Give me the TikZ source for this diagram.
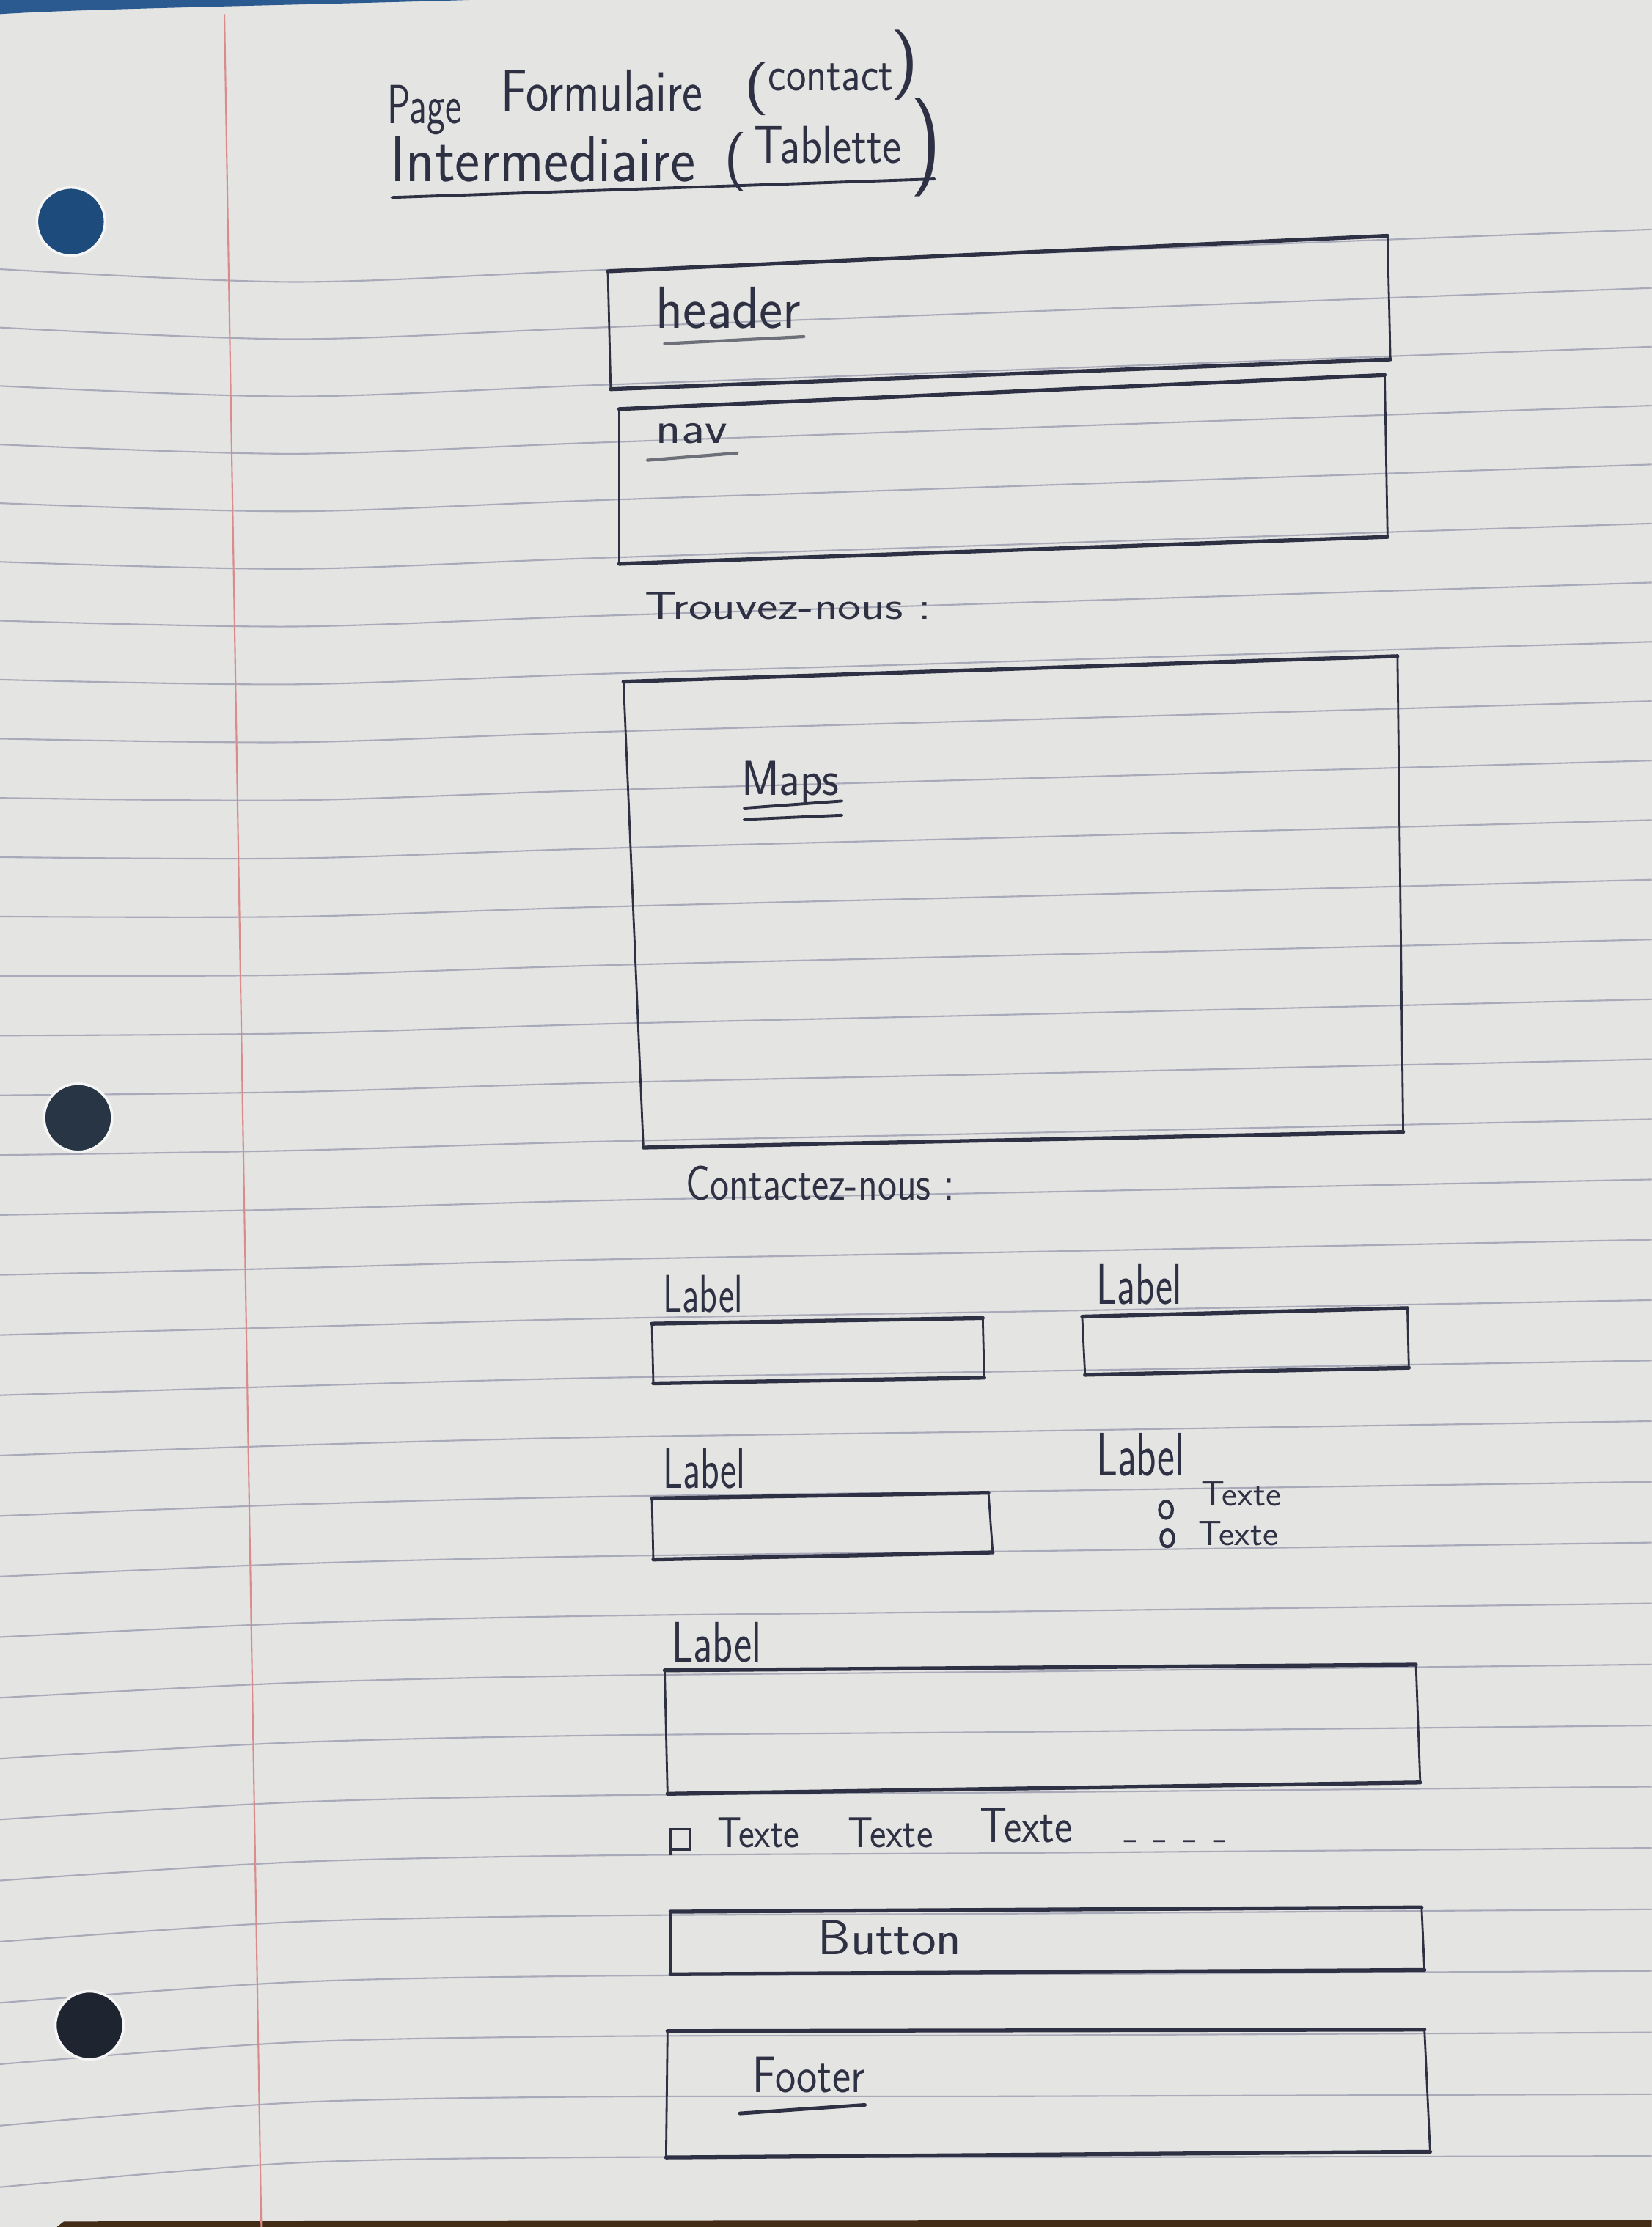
\documentclass[tikz,border=0pt]{standalone}
\usepackage{graphicx}
\newlength\pxu
\setlength\pxu{0.55118pt}
% handwritten-looking word: width and height (above baseline) in picture units;
% set large first so the light 17pt optical design is used
\newcommand\hw[3]{\resizebox{#1\pxu}{#2\pxu}{\sffamily\fontsize{20}{24}\selectfont #3}}
\definecolor{paper}{HTML}{E4E4E2}
\definecolor{rule}{HTML}{A9AAB9}
\definecolor{margin}{HTML}{DA8C8C}
\definecolor{ink}{HTML}{2E3043}
\definecolor{pencil}{HTML}{6E7079}
\definecolor{band}{HTML}{2A5A90}
\definecolor{holeA}{HTML}{1D4B7C}
\definecolor{holeB}{HTML}{273544}
\definecolor{holeC}{HTML}{1F2431}
\tikzset{
  txt/.style={inner sep=0pt, outer sep=0pt, text=ink, anchor=base west},
  edgeh/.style={draw=ink, line width=1.5pt, line cap=round},
  edgev/.style={draw=ink, line width=0.8pt, line cap=round},
  uline/.style={draw=ink, line width=1.1pt, line cap=round},
  pline/.style={draw=pencil, line width=1.2pt, line cap=round},
  hole/.style={draw=white!92!gray, line width=1pt},
}
% four hand-drawn edges: top-left, top-right, bottom-right, bottom-left
\newcommand\sketchbox[4]{%
  \draw[edgeh] #1 -- #2;
  \draw[edgeh] #4 -- #3;
  \draw[edgev] #1 -- #4;
  \draw[edgev] #2 -- #3;
}
\begin{document}
\begin{tikzpicture}[x=0.019372cm, y=-0.019372cm]
\useasboundingbox (0,0) rectangle (1163,1568);
% sheet
\fill[paper] (0,0) rectangle (1163,1568);
\fill[band] (0,0) -- (330,0) .. controls (200,4) and (60,6) .. (0,10) -- cycle;
\fill[black!65!brown] (40,1568) -- (45,1564) -- (1163,1563) -- (1163,1568) -- cycle;
% ruled lines
\foreach \k in {0,...,32}{
  \pgfmathsetmacro{\yy}{189.5+41.04*\k+0.0363*\k*\k}
  \pgfmathsetmacro{\t}{\k/32}
  \draw[rule, line width=0.6pt] plot[smooth] coordinates {
    (0,\yy)
    (206,{\yy+9-26*\t})
    (413,{\yy+1-22*\t})
    (723,{\yy-11-10*\t})
    (1163,{\yy-28+6*\t})};
}
% margin
\draw[margin, line width=0.6pt] (158,10) -- (184,1568);
% punched holes
\fill[holeA, hole] (50,156) circle (24);
\fill[holeB, hole] (55,787) circle (24);
\fill[holeC, hole] (63,1426) circle (24);

% title
\node[txt] (tpage) at (273,87) {\hw{52}{27}{Page}};
\node[txt] (tform) at (353,78) {\hw{142}{29}{Formulaire}};
\node[txt] (tpo1) at (524,72) {\hw{18}{28}{(}};
\node[txt] (tcont) at (541,64) {\hw{88}{19}{contact}};
\node[txt] (tpc1) at (627,58) {\hw{20}{37}{)}};
\node[txt] (tinter) at (275,128) {\hw{215}{32}{Intermediaire}};
\node[txt] (tpo2) at (510,124) {\hw{16}{31}{(}};
\node[txt] (ttab) at (531,115) {\hw{104}{26}{Tablette}};
\node[txt] (tpc2) at (641,121) {\hw{22}{52}{)}};
\draw[uline] (276,139) -- (658,126);

% header
\sketchbox{(428,191)}{(977,166)}{(979,253)}{(430,274)}
\node[txt] (header) at (462,231) {\hw{102}{29}{header}};
\draw[pline] (468,242) -- (566,237);

% nav
\sketchbox{(436,288)}{(975,264)}{(977,378)}{(436,397)}
\node[txt] (nav) at (462,312) {\hw{50}{14}{nav}};
\draw[pline] (456,324) -- (519,319);

% map section
\node[txt] (trouvez) at (454,436) {\hw{202}{19}{Trouvez-nous :}};
\sketchbox{(439,480)}{(984,462)}{(988,797)}{(453,808)}
\node[txt] (maps) at (522,560) {\hw{69}{24}{Maps}};
\draw[uline] (524,569) -- (593,564);
\draw[uline] (524,577) -- (593,574);

% contact form
\node[txt] (contactez) at (483,845) {\hw{189}{24}{Contactez-nous :}};

\node[txt] (lab1) at (467,924) {\hw{56}{26}{Label}};
\sketchbox{(459,932)}{(692,928)}{(693,970)}{(460,974)}
\node[txt] (lab2) at (772,918) {\hw{60}{28}{Label}};
\sketchbox{(762,927)}{(991,921)}{(992,963)}{(764,968)}

\node[txt] (lab3) at (467,1048) {\hw{58}{28}{Label}};
\sketchbox{(459,1055)}{(696,1051)}{(699,1093)}{(460,1098)}
\node[txt] (lab4) at (772,1039) {\hw{62}{30}{Label}};
\draw[ink, line width=1.2pt] (821,1063) ellipse (4.5 and 6);
\node[txt] (radio1) at (846,1060) {\hw{56}{17}{Texte}};
\draw[ink, line width=1.2pt] (822,1083) ellipse (4.5 and 6);
\node[txt] (radio2) at (844,1088) {\hw{56}{17}{Texte}};

\node[txt] (lab5) at (473,1170) {\hw{63}{28}{Label}};
\sketchbox{(468,1176)}{(997,1172)}{(1000,1255)}{(470,1263)}

\draw[ink, line width=1pt] (472,1288) rectangle (486,1302);
\draw[ink, line width=1pt] (472,1302) -- (472,1306);
\node[txt] (chk1) at (505,1301) {\hw{58}{21}{Texte}};
\node[txt] (chk2) at (597,1301) {\hw{60}{21}{Texte}};
\node[txt] (chk3) at (690,1297) {\hw{65}{24}{Texte}};
\node[txt] (dots) at (791,1302) {\hw{74}{6}{- - - -}};

% button
\sketchbox{(472,1346)}{(1001,1343)}{(1003,1387)}{(472,1390)}
\node[txt] (button) at (576,1376) {\hw{101}{24}{Button}};

% footer
\sketchbox{(470,1430)}{(1003,1429)}{(1007,1515)}{(469,1519)}
\node[txt] (footer) at (530,1473) {\hw{79}{25}{Footer}};
\draw[uline, line width=1.4pt] (521,1488) -- (609,1482);
\end{tikzpicture}
\end{document}
